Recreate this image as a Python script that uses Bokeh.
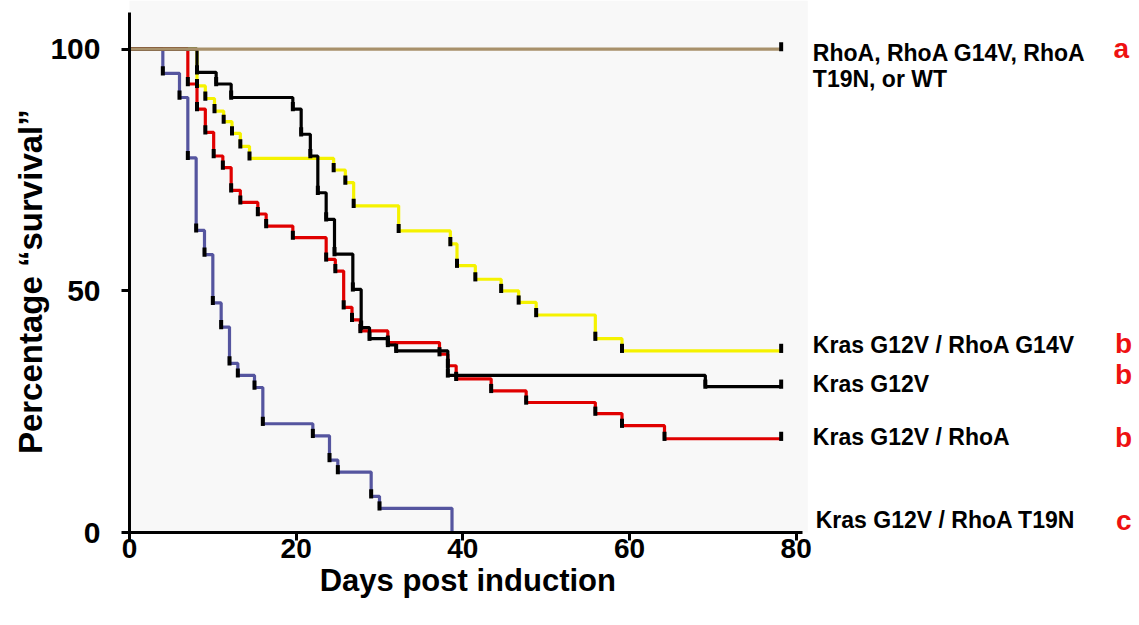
import math
from bokeh.plotting import figure
from bokeh.models import Range1d, FixedTicker, BoxAnnotation
from bokeh.core.properties import value
from bokeh.embed import file_html
from bokeh.resources import INLINE

# ---------------- data ----------------
x_ticks = [0, 20, 40, 60, 80]
y_ticks = [0, 50, 100]

# RhoA, RhoA G14V, RhoA T19N, or WT  (no events)
wt_days = [0, 78.2]
wt_surv = [100, 100]

# Kras G12V / RhoA T19N
t19n_days = [0, 4, 6, 7, 8, 9, 10, 11, 12, 13, 15, 16, 22, 24, 25, 29, 30, 38.7]
t19n_surv = [100, 95, 90, 77.5, 62.5, 57.5, 47.5, 42.5, 35, 32.5, 30, 22.5, 20, 15, 12.5, 7.5, 5, 0]

# Kras G12V / RhoA
rhoa_days = [0, 7, 8.1, 9.1, 10.1, 11.2, 12.2, 13.3, 15.4, 16.4, 19.6, 23.6, 24.7, 25.7, 26.7,
             27.7, 31.0, 37.2, 38.2, 39.2, 43.4, 47.6, 55.9, 59.1, 64.2, 78.2]
rhoa_surv = [100, 92.8, 87.6, 82.8, 77.9, 75.5, 70.8, 68.3, 65.9, 63.4, 61.0, 56.5, 54.1, 46.6, 44.0,
             41.7, 39.3, 36.9, 34.5, 31.8, 29.3, 26.9, 24.6, 22.1, 19.4, 19.4]

# Kras G12V
kras_days = [0, 8.1, 10.4, 12.2, 19.6, 20.6, 21.7, 22.6, 23.6, 24.6, 26.8, 27.8, 28.8, 31.0,
             32.0, 38.2, 69.1, 78.2]
kras_surv = [100, 95.2, 92.8, 90.0, 87.6, 82.4, 77.9, 70.3, 64.8, 57.6, 50.3, 42.4, 40.1, 38.8,
             37.6, 32.5, 30.2, 30.2]

# Kras G12V / RhoA G14V
g14v_days = [0, 8.1, 9.1, 10.2, 11.3, 12.3, 13.3, 14.4, 24.5, 25.9, 26.9, 32.3, 38.5, 39.3,
             41.5, 44.6, 46.7, 48.8, 55.9, 59.1, 78.2]
g14v_surv = [100, 92.4, 89.8, 87.2, 85.0, 82.6, 79.9, 77.4, 75.0, 72.4, 67.6, 62.4, 59.7, 55.2,
             52.4, 50.0, 47.6, 45.0, 40.1, 37.6, 37.6]

# group labels and significance letters
group_names = ["RhoA, RhoA G14V, RhoA", "T19N, or WT", "Kras G12V / RhoA G14V",
               "Kras G12V", "Kras G12V / RhoA", "Kras G12V / RhoA T19N"]
letters = ["a", "b", "b", "b", "c"]
x_title = "Days post induction"
y_title = "Percentage \u201csurvival\u201d"

FONT = "Liberation Sans"
X_AXIS_END = 80.8
Y_AXIS_TOP = 107.6

# the frame covers the whole canvas; axes are pinned at 0 inside it
p = figure(width=1139, height=620, output_backend="svg", toolbar_location=None,
           x_range=Range1d(-15.48, 121.2), y_range=Range1d(-18.2, 110.07),
           min_border=0, min_border_left=0, min_border_right=0, min_border_top=0,
           min_border_bottom=0, background_fill_color="white", border_fill_color="white")
p.outline_line_color = None
p.grid.visible = False
p.add_layout(BoxAnnotation(left=0, right=X_AXIS_END + 0.6, bottom=0, fill_color="#f8f8f8",
                           fill_alpha=1.0, line_color=None, level="underlay"))

for ax in (p.xaxis[0], p.yaxis[0]):
    ax.fixed_location = 0
    ax.axis_line_width = 3
    ax.axis_line_color = "black"
    ax.major_tick_line_width = 3
    ax.major_tick_line_color = "black"
    ax.major_tick_out = 8
    ax.major_tick_in = 0
    ax.minor_tick_line_color = None
    ax.major_label_text_font = FONT
    ax.major_label_text_font_style = "bold"
    ax.major_label_text_color = "black"

p.xaxis.bounds = (0, X_AXIS_END)
p.yaxis.bounds = (-1.65, Y_AXIS_TOP)
p.xaxis.ticker = FixedTicker(ticks=x_ticks)
p.yaxis.ticker = FixedTicker(ticks=y_ticks)
p.xaxis.major_label_text_font_size = "28px"
p.yaxis.major_label_text_font_size = "30px"
p.xaxis.major_label_standoff = -2
p.yaxis.major_label_standoff = 21

# axis titles
p.text(x=[40.6], y=[-9.9], text=[x_title], text_font=value(FONT), text_font_style="bold",
       text_font_size="31px", text_color="black", text_align="center", text_baseline="middle")
p.text(x=[-11.9], y=[51.9], text=[y_title], text_font=value(FONT), text_font_style="bold",
       text_font_size="33px", text_color="black", text_align="center", text_baseline="middle",
       angle=math.pi / 2)

curves = [
    (t19n_days, t19n_surv, "#55559f"),
    (g14v_days, g14v_surv, "#f5f200"),
    (rhoa_days, rhoa_surv, "#e00000"),
    (kras_days, kras_surv, "#000000"),
    (wt_days, wt_surv, "#a8916b"),
]
for d, s, c in curves:
    p.step(d, s, mode="after", line_color=c, line_width=3.2)

# censor / event ticks
tx, ty0, ty1 = [], [], []
for d, s, c in curves[:-1]:
    for xi, yi in zip(d[1:], s[1:]):
        if yi > 0:
            tx.append(xi)
            ty0.append(yi - 0.45)
            ty1.append(yi + 1.45)
tx.append(wt_days[-1]); ty0.append(wt_surv[-1] - 0.45); ty1.append(wt_surv[-1] + 1.45)
p.segment(x0=tx, y0=ty0, x1=tx, y1=ty1, line_color="black", line_width=4)

# right-hand labels (positions are layout)
name_x = [82.0, 82.0, 82.0, 82.0, 82.0, 82.35]
name_y = [99.3, 93.9, 38.7, 30.8, 19.7, 2.5]
p.text(x=name_x, y=name_y, text=group_names, text_font=value(FONT), text_font_style="bold",
       text_font_size="23px", text_color="black", text_align="left", text_baseline="middle")

letter_x = [119.0, 119.3, 119.3, 119.3, 119.3]
letter_y = [100.1, 39.1, 32.7, 19.7, 2.5]
p.text(x=letter_x, y=letter_y, text=letters, text_font=value(FONT), text_font_style="bold",
       text_font_size="28px", text_color="#ee1111", text_align="center", text_baseline="middle")

open("out.html", "w").write(file_html(p, INLINE))
